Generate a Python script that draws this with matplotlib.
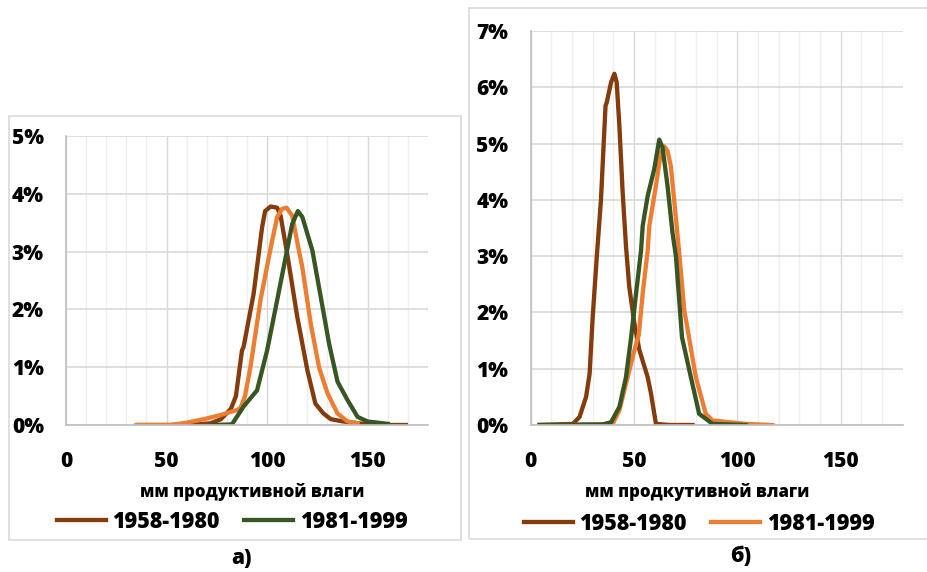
import matplotlib
matplotlib.use("Agg")
import matplotlib.pyplot as plt
from matplotlib.patches import Rectangle
from matplotlib.ticker import MultipleLocator, FuncFormatter

plt.rcParams['font.family'] = ['Open Sans', 'DejaVu Sans']
FW = 800

# ---------- data (percent) ----------
# panel a
a_1958_x = [36, 50, 65, 72, 77, 82, 84.5, 87.5, 88.3, 93.3, 97.5, 99, 101.7, 105, 106.7, 110, 115, 120, 124, 128, 131.7, 138, 150, 160, 169]
a_1958_y = [0, 0, 0.01, 0.03, 0.1, 0.28, 0.5, 1.29, 1.35, 2.27, 3.42, 3.7, 3.78, 3.76, 3.62, 2.96, 1.87, 0.95, 0.37, 0.2, 0.1, 0.06, 0.01, 0, 0]
a_orange_x = [35, 52, 60, 68.4, 76.7, 85, 86.7, 89, 91.7, 96.7, 101.7, 105, 107.5, 109.7, 112.5, 115.8, 117.5, 121.7, 125.8, 130, 135, 140, 145]
a_orange_y = [0, 0, 0.04, 0.1, 0.17, 0.26, 0.29, 0.5, 1.0, 2.16, 3.05, 3.6, 3.74, 3.76, 3.62, 3.02, 2.73, 1.75, 1.0, 0.55, 0.2, 0.06, 0.03]
a_1981_x = [73.4, 82.5, 88.3, 95, 100, 105, 109.2, 112.5, 115.3, 117.5, 122.5, 126.7, 130.8, 135, 140, 145, 150, 160]
a_1981_y = [0, 0.01, 0.32, 0.6, 1.29, 2.16, 2.9, 3.48, 3.7, 3.6, 3.02, 2.21, 1.41, 0.75, 0.43, 0.14, 0.06, 0.02]

# panel b
b_1958_x = [4.3, 20.4, 23.6, 26.8, 28.5, 30, 32, 34, 36.2, 36.8, 38.9, 40.5, 41.6, 42.9, 44.5, 46.1, 47.7, 50.2, 52.6, 56.6, 58.2, 60.6, 67, 78.3]
b_1958_y = [0, 0.02, 0.14, 0.5, 0.91, 1.92, 3.0, 4.0, 5.67, 5.73, 6.09, 6.24, 6.09, 5.32, 4.13, 3.18, 2.45, 1.8, 1.33, 0.85, 0.56, 0.02, 0, 0]
b_1981_x = [4.3, 20, 39.7, 42.9, 46.9, 50.2, 52.3, 54.2, 56.6, 57.4, 60.6, 63, 64.6, 66.2, 67.8, 69.4, 71.9, 74.3, 76.4, 79.9, 84.7, 88, 104, 116.9]
b_1981_y = [0, 0, 0.02, 0.26, 0.85, 1.33, 1.6, 2.34, 3.1, 3.54, 4.25, 4.84, 4.95, 4.87, 4.6, 4.0, 3.05, 2.04, 1.6, 0.85, 0.2, 0.08, 0.02, 0]
b_green_x = [4.3, 34.9, 38.9, 42.9, 46.1, 48.6, 51, 53.4, 54.2, 56.6, 59.8, 62.2, 63.8, 66.2, 68.6, 70.3, 73.2, 77.5, 81.5, 88, 104]
b_green_y = [0, 0.01, 0.05, 0.32, 0.85, 1.56, 2.34, 3.1, 3.54, 4.07, 4.55, 5.07, 4.93, 4.25, 3.42, 2.99, 1.56, 0.85, 0.2, 0.02, 0]

label_1958 = "1958-1980"
label_1981 = "1981-1999"
xlabel_a = "мм продуктивной влаги"
xlabel_b = "мм продкутивной влаги"
xticks = [0, 50, 100, 150]

BROWN = "#843C0C"
ORANGE = "#ED7D31"
GREEN = "#375623"

W, H = 928, 572
fig = plt.figure(figsize=(W / 100, H / 100), dpi=100)
fig.patch.set_facecolor("white")


def fx(px):
    return px / W


def fy(py):
    return 1 - py / H


# panel frames
fig.add_artist(Rectangle((fx(9), fy(540)), fx(461) - fx(9), fy(116) - fy(540),
                         transform=fig.transFigure, fill=False, edgecolor="#d9d9d9", lw=1.2))
fig.add_artist(Rectangle((fx(469), fy(539)), fx(945) - fx(469), fy(8) - fy(539),
                         transform=fig.transFigure, fill=False, edgecolor="#d9d9d9", lw=1.2))

ax1 = fig.add_axes([fx(66), fy(425), fx(428) - fx(66), fy(136) - fy(425)])
ax2 = fig.add_axes([fx(530.7), fy(425), fx(902.7) - fx(530.7), fy(31) - fy(425)])

TICK_FS = 15


def style(ax, ymax):
    ax.set_xlim(0, 180)
    ax.set_ylim(0, ymax)
    ax.xaxis.set_minor_locator(MultipleLocator(10))
    ax.yaxis.set_major_locator(MultipleLocator(1))
    ax.set_xticks(xticks)
    ax.yaxis.set_major_formatter(FuncFormatter(lambda v, p: f"{v:.0f}%"))
    ax.grid(which="minor", axis="x", color="#efefef", lw=1.0)
    ax.grid(which="major", axis="x", color="#d9d9d9", lw=1.0)
    ax.grid(which="major", axis="y", color="#d9d9d9", lw=1.2)
    ax.set_axisbelow(True)
    for s in ("top", "right"):
        ax.spines[s].set_visible(False)
    for s in ("left", "bottom"):
        ax.spines[s].set_color("#bfbfbf")
        ax.spines[s].set_linewidth(1.2)
    ax.tick_params(which="both", length=0)
    ax.tick_params(axis="x", pad=19, labelsize=TICK_FS)
    ax.tick_params(axis="y", pad=16, labelsize=TICK_FS)
    for t in ax.get_xticklabels() + ax.get_yticklabels():
        t.set_fontweight(FW)


style(ax1, 5)
style(ax2, 7)

LW = 3.1
l1, = ax1.plot(a_1958_x, a_1958_y, color=BROWN, lw=LW, label=label_1958, solid_joinstyle="round")
ax1.plot(a_orange_x, a_orange_y, color=ORANGE, lw=LW, solid_joinstyle="round")
l2, = ax1.plot(a_1981_x, a_1981_y, color=GREEN, lw=LW, label=label_1981, solid_joinstyle="round")

m1, = ax2.plot(b_1958_x, b_1958_y, color=BROWN, lw=LW, label=label_1958, solid_joinstyle="round")
m2, = ax2.plot(b_1981_x, b_1981_y, color=ORANGE, lw=LW, label=label_1981, solid_joinstyle="round")
ax2.plot(b_green_x, b_green_y, color=GREEN, lw=LW, solid_joinstyle="round")

fig.text(fx(252), fy(492), xlabel_a, ha="center", va="center", fontsize=12, fontweight=FW)
fig.text(fx(697), fy(492), xlabel_b, ha="center", va="center", fontsize=12, fontweight=FW)

leg_kw = dict(ncol=2, frameon=False, loc="center", bbox_transform=fig.transFigure,
              handlelength=2.3, handletextpad=0.3, columnspacing=1.1,
              prop=dict(size=15.5, weight=FW), borderaxespad=0, borderpad=0)
ax1.legend(handles=[l1, l2], bbox_to_anchor=(fx(232), fy(522)), **leg_kw)
ax2.legend(handles=[m1, m2], bbox_to_anchor=(fx(699), fy(524)), **leg_kw)

fig.text(fx(242), fy(558), "а)", ha="center", va="center", fontsize=15, fontweight=FW)
fig.text(fx(741), fy(557), "б)", ha="center", va="center", fontsize=15, fontweight=FW)

fig.savefig("out.png", dpi=100, facecolor="white")
